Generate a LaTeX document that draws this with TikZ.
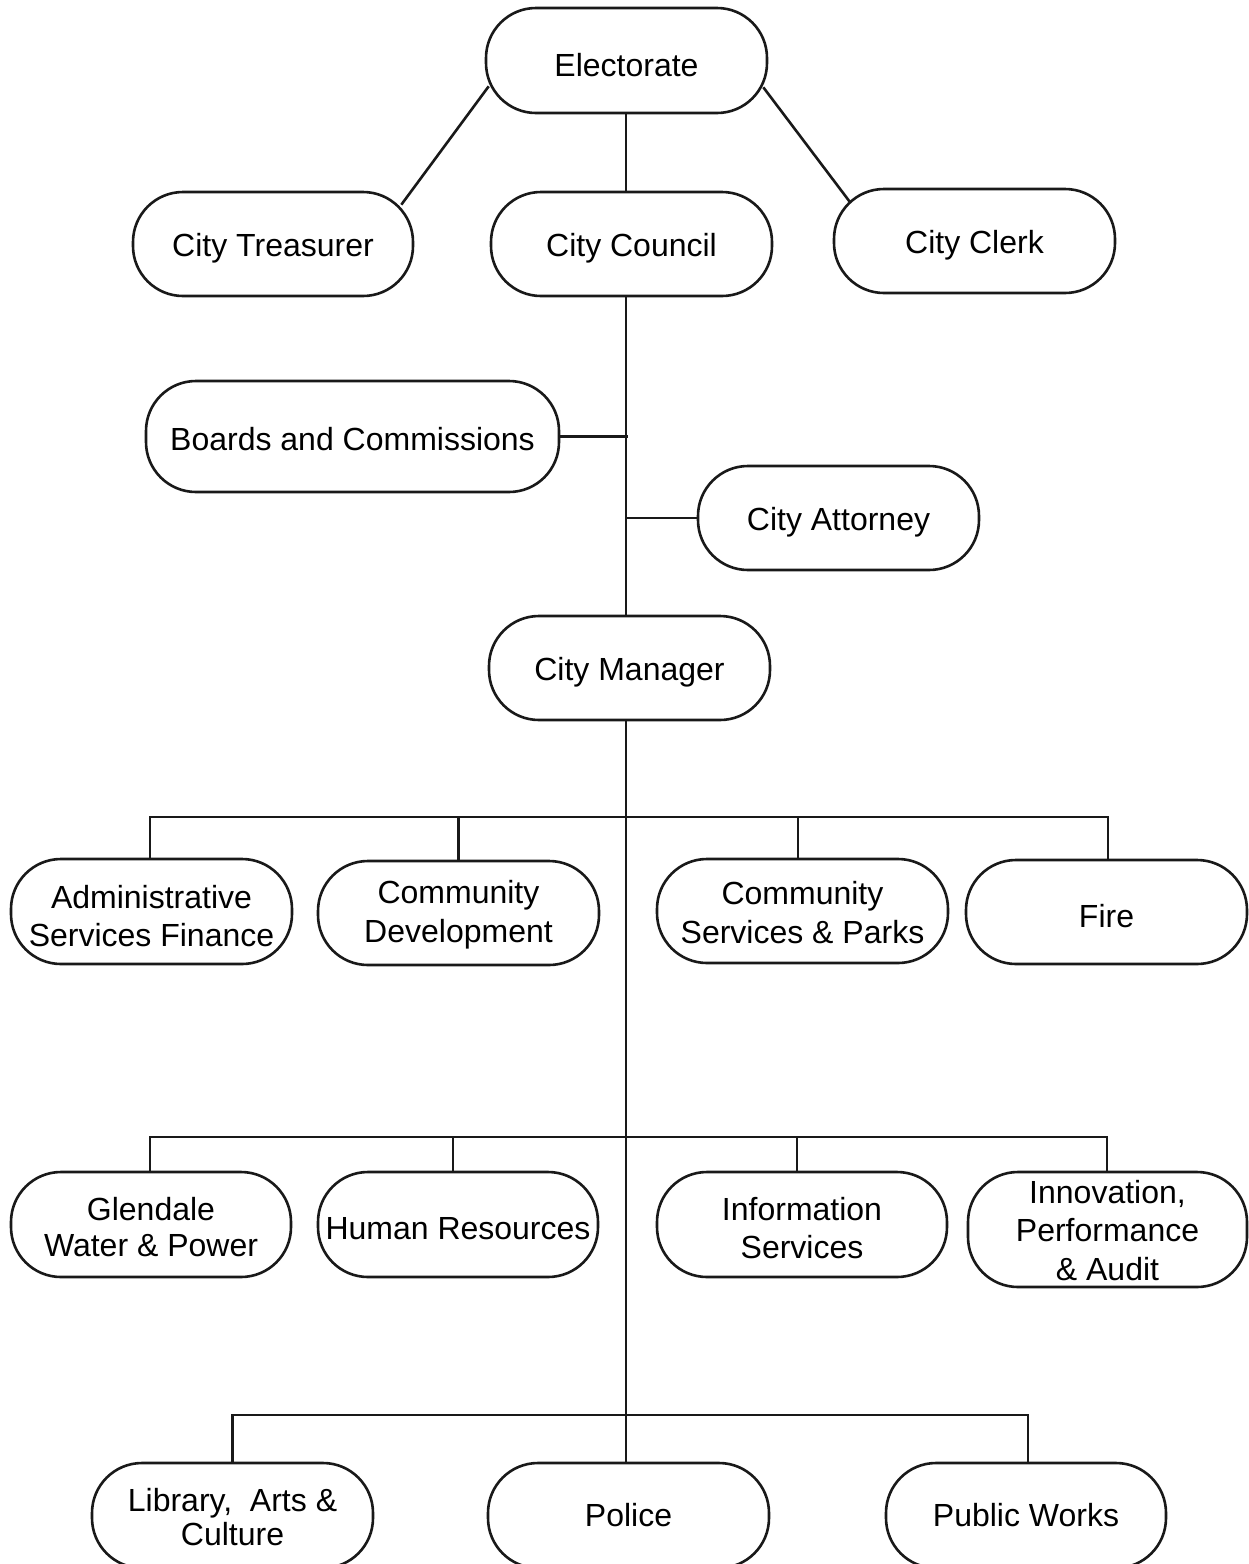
\documentclass[tikz,border=0pt]{standalone}
\usepackage{fontspec}
\setmainfont{Liberation Sans}
\usetikzlibrary{calc}
\begin{document}
\begin{tikzpicture}[x=1pt,y=-1pt,
  box/.style={draw=black!90, line width=2.6pt, rounded corners=50pt, minimum width=281pt, minimum height=105pt, inner sep=0pt},
  lbl/.style={align=center, inner sep=0pt, yshift=-4.5pt, font=\fontsize{32}{38.5}\selectfont},
  conn/.style={draw=black!90, line width=2.6pt}]
\useasboundingbox (0,0) rectangle (1248,1564);
% top
\node[box, label={[lbl]center:Electorate}] (E) at (626.5,60.5) {};
\node[box, minimum width=280pt, minimum height=104pt, label={[lbl]center:City Treasurer}] (T) at (273,244) {};
\node[box, minimum height=104pt, label={[lbl]center:City Council}] (C) at (631.5,244) {};
\node[box, minimum height=104pt, label={[lbl]center:City Clerk}] (K) at (974.5,241) {};
\node[box, minimum width=413pt, minimum height=111pt, label={[lbl, yshift=2pt]center:Boards and Commissions}] (B) at (352.5,436.5) {};
\node[box, minimum height=104pt, label={[lbl]center:City Attorney}] (A) at (838.5,518) {};
\node[box, minimum height=104pt, label={[lbl]center:City Manager}] (M) at (629.5,668) {};
% row 1
\node[box, label={[lbl]center:{Administrative\\Services Finance}}] (ASF) at (151.5,911.5) {};
\node[box, minimum height=104pt, label={[lbl, yshift=3pt]center:{Community\\Development}}] (CD) at (458.5,913) {};
\node[box, minimum width=291pt, minimum height=104pt, label={[lbl, yshift=3pt]center:{Community\\Services \& Parks}}] (CSP) at (802.5,911) {};
\node[box, minimum height=104pt, label={[lbl]center:Fire}] (F) at (1106.5,912) {};
% row 2
\node[box, minimum width=280pt, label={[lbl, font=\fontsize{32}{35.5}\selectfont, yshift=2pt]center:{Glendale\\Water \& Power}}] (G) at (151,1224.5) {};
\node[box, minimum width=280pt, label={[lbl]center:Human Resources}] (HR) at (458,1224.5) {};
\node[box, minimum width=290pt, label={[lbl, yshift=1pt]center:{Information\\Services}}] (IS) at (802,1224.5) {};
\node[box, minimum width=279pt, minimum height=115pt, label={[lbl, yshift=3.5pt]center:{Innovation,\\Performance\\\& Audit}}] (IPA) at (1107.5,1229.5) {};
% row 3
\node[box, label={[lbl, font=\fontsize{32}{34}\selectfont, yshift=2.5pt]center:{Library,\ \ Arts \&\\Culture}}] (L) at (232.5,1515.5) {};
\node[box, label={[lbl, yshift=4.5pt]center:Police}] (P) at (628.5,1515.5) {};
\node[box, minimum width=280pt, label={[lbl, yshift=4.5pt]center:Public Works}] (PW) at (1026,1515.5) {};
% connectors
\coordinate (tr) at (626,0);
\draw[conn] ([xshift=4pt,yshift=28pt]E.south west) -- ([xshift=-13pt,yshift=-14pt]T.north east);
\draw[conn] ([xshift=-5pt,yshift=27pt]E.south east) -- ([xshift=17pt,yshift=-14pt]K.north west);
\draw[conn] (E.south -| tr) -- (C.north -| tr);
\draw[conn] (C.south -| tr) -- (M.north -| tr);
\draw[conn] (B.east) -- ([xshift=1.5pt]B.east -| tr);
\draw[conn] (A.west -| tr) -- (A.west);
\draw[conn] (M.south -| tr) -- (P.north -| tr);
% bus 1
\coordinate (b1) at (626,817);
\draw[conn] ([xshift=-1.5pt]ASF.north) |- ([xshift=1.5pt]F.north |- b1) -- ([xshift=1.5pt]F.north);
\draw[conn] (CD.north) -- (CD.north |- b1);
\draw[conn] ([xshift=-4.5pt]CSP.north) -- ([xshift=-4.5pt]CSP.north |- b1);
% bus 2
\coordinate (b2) at (626,1137);
\draw[conn] ([xshift=-1pt]G.north) |- ([xshift=-0.5pt]IPA.north |- b2) -- ([xshift=-0.5pt]IPA.north);
\draw[conn] ([xshift=-5pt]HR.north) -- ([xshift=-5pt]HR.north |- b2);
\draw[conn] ([xshift=-5pt]IS.north) -- ([xshift=-5pt]IS.north |- b2);
% bus 3
\coordinate (b3) at (626,1415);
\draw[conn] (L.north) |- ([xshift=2pt]PW.north |- b3) -- ([xshift=2pt]PW.north);
\end{tikzpicture}
\end{document}
